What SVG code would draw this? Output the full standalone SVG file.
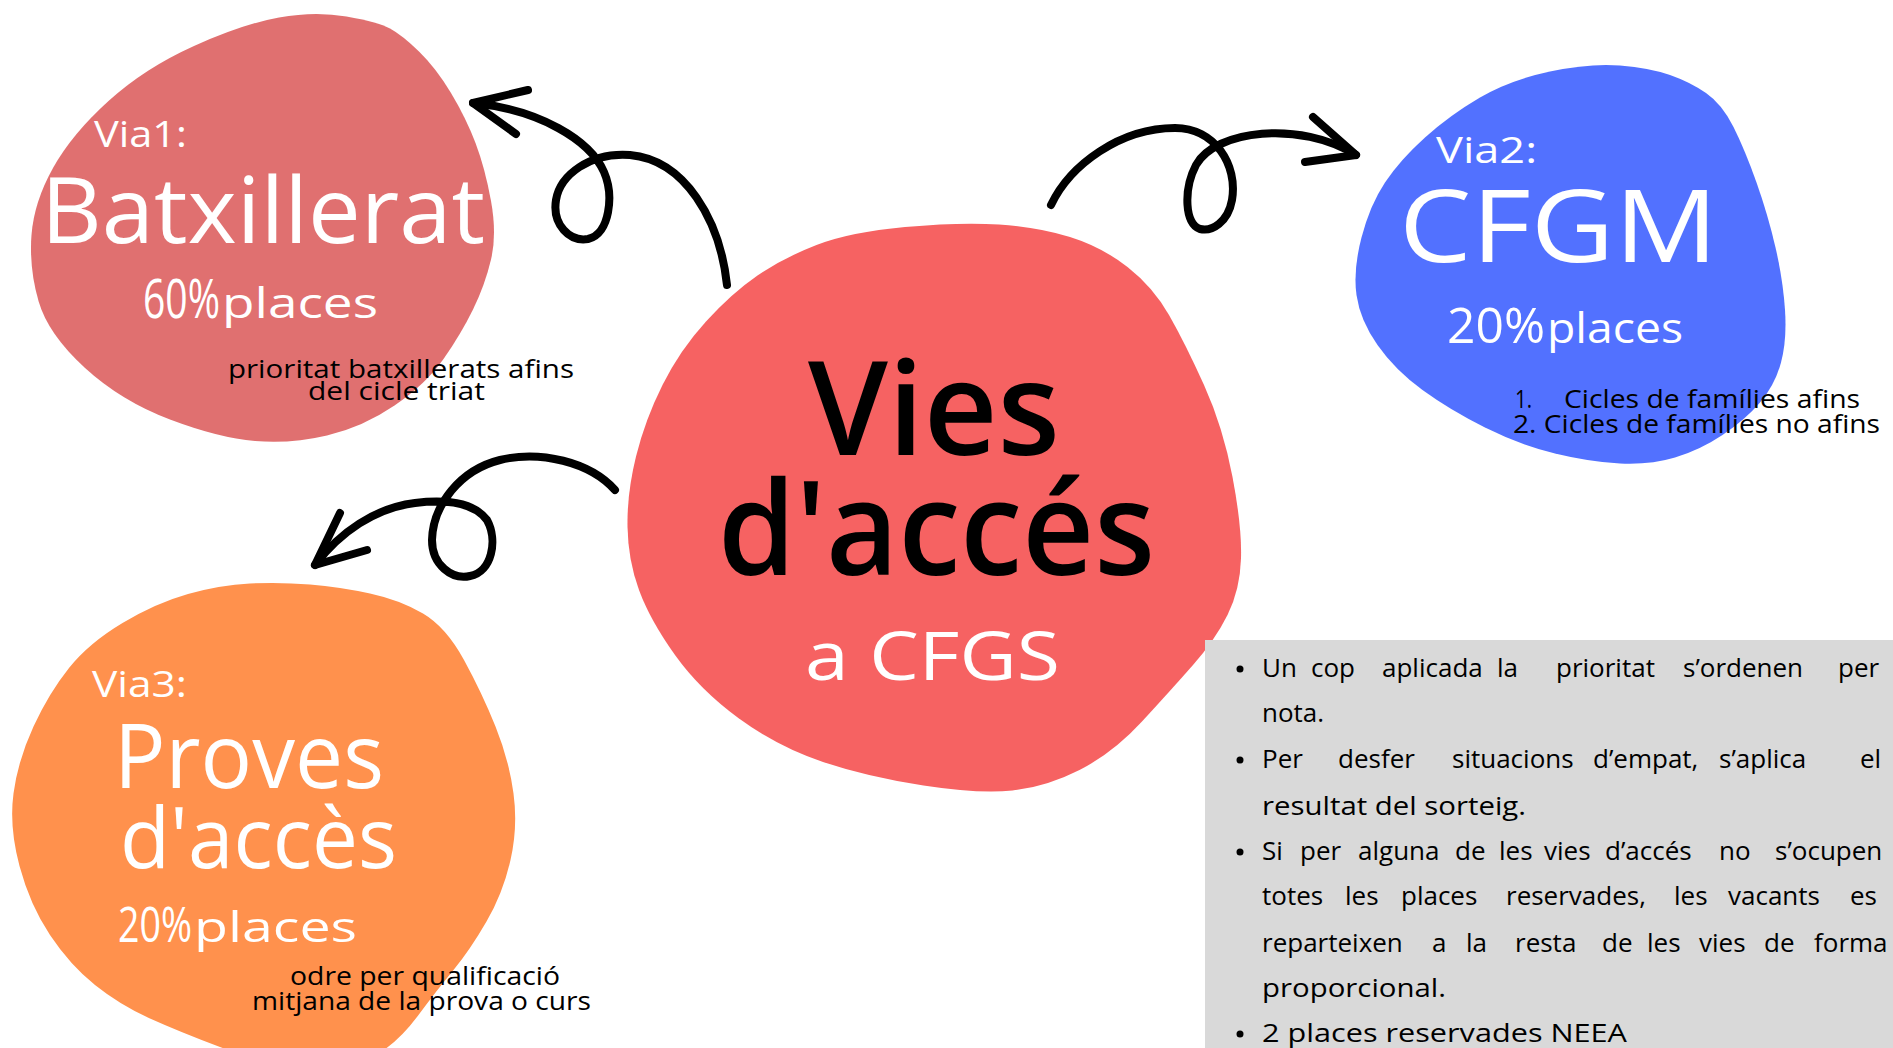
<svg xmlns="http://www.w3.org/2000/svg" width="1893" height="1048" viewBox="0 0 1893 1048">
<style>
  text { font-family: "Open Sans", "Liberation Sans", sans-serif; }
  .w { fill: #ffffff; }
  .k { fill: #000000; }
  .title { font-weight: 600; }
  .note { font-size: 26px; fill: #000000; }
  .arrow { fill: none; stroke: #000000; stroke-width: 8; stroke-linecap: round; stroke-linejoin: round; }
</style>
<rect x="0" y="0" width="1893" height="1048" fill="#ffffff"/>

<g id="node-via1">
  <path fill="#E07070" d="M 390 28.5 Q 402 35 419 51.5 Q 436 68 451 93 Q 466 118 475.5 143 Q 485 168 491 201 Q 497 234 491 259.5 Q 485 285 473 309.5 Q 461 334 443.5 359 Q 426 384 394.5 405.5 Q 363 427 327 435.5 Q 291 444 255 441 Q 219 438 170 419.5 Q 121 401 84.5 367.5 Q 48 334 38.5 301 Q 29 268 31.5 235 Q 34 202 53 168 Q 72 134 108.5 101 Q 145 68 194 46 Q 243 24 279 17.5 Q 315 11 346.5 16.5 Q 378 22 390 28.5 Z"/>
  <text class="w" x="94" y="147" font-size="36" textLength="93" lengthAdjust="spacingAndGlyphs">Via1:</text>
  <text class="w" x="41" y="243" font-size="92" textLength="444" lengthAdjust="spacingAndGlyphs">Batxillerat</text>
  <text class="w" y="318"><tspan x="143" font-size="54" textLength="77" lengthAdjust="spacingAndGlyphs">60%</tspan><tspan x="222" font-size="42" textLength="156" lengthAdjust="spacingAndGlyphs">places</tspan></text>
  <text class="k" x="228" y="378" font-size="25" textLength="346" lengthAdjust="spacingAndGlyphs">prioritat batxillerats afins</text>
  <text class="k" x="308" y="400" font-size="25" textLength="177" lengthAdjust="spacingAndGlyphs">del cicle triat</text>
</g>

<g id="node-via2">
  <path fill="#5271FF" d="M 1550 71.5 Q 1590 63 1620 65.5 Q 1650 68 1670 75 Q 1690 82 1706 93 Q 1722 104 1733.5 127 Q 1745 150 1756.5 182.5 Q 1768 215 1775.5 247.5 Q 1783 280 1785 310 Q 1787 340 1781 362.5 Q 1775 385 1760 402.5 Q 1745 420 1722.5 435 Q 1700 450 1675 457.5 Q 1650 465 1620 463.5 Q 1590 462 1555 453.5 Q 1520 445 1485 427.5 Q 1450 410 1422.5 390 Q 1395 370 1377.5 345 Q 1360 320 1356.5 295 Q 1353 270 1361.5 237.5 Q 1370 205 1385 182.5 Q 1400 160 1425 137.5 Q 1450 115 1480 97.5 Q 1510 80 1550 71.5 Z"/>
  <text class="w" x="1436" y="163" font-size="36" textLength="101" lengthAdjust="spacingAndGlyphs">Via2:</text>
  <text class="w" x="1399" y="262" font-size="100" textLength="319" lengthAdjust="spacingAndGlyphs">CFGM</text>
  <text class="w" y="343"><tspan x="1447" font-size="50" textLength="98" lengthAdjust="spacingAndGlyphs">20%</tspan><tspan x="1547" font-size="42" textLength="136" lengthAdjust="spacingAndGlyphs">places</tspan></text>
  <text class="k" y="408" font-size="25"><tspan x="1515" textLength="17" lengthAdjust="spacingAndGlyphs">1.</tspan><tspan x="1564" textLength="296" lengthAdjust="spacingAndGlyphs">Cicles de famílies afins</tspan></text>
  <text class="k" x="1513" y="433" font-size="25" textLength="367" lengthAdjust="spacingAndGlyphs">2. Cicles de famílies no afins</text>
</g>

<g id="node-via3">
  <path fill="#FF914D" d="M 250 583.5 Q 280 582 310 584.5 Q 340 587 370 593.5 Q 400 600 423 613.5 Q 446 627 464 660 Q 482 693 495.5 726.5 Q 509 760 513.5 793.5 Q 518 827 510.5 860 Q 503 893 486.5 921.5 Q 470 950 453.5 970 Q 437 990 418.5 1015 Q 400 1040 380 1052.5 Q 360 1065 310 1063.5 Q 260 1062 220 1047 Q 180 1032 150 1018.5 Q 120 1005 95 985 Q 70 965 50 935 Q 30 905 19.5 866 Q 9 827 13.5 793.5 Q 18 760 33.5 726.5 Q 49 693 69 668 Q 89 643 122.5 623 Q 156 603 188 594 Q 220 585 250 583.5 Z"/>
  <text class="w" x="92" y="697" font-size="36" textLength="95" lengthAdjust="spacingAndGlyphs">Via3:</text>
  <text class="w" x="114" y="788" font-size="90" textLength="270" lengthAdjust="spacingAndGlyphs">Proves</text>
  <text class="w" x="120" y="868" font-size="85" textLength="277" lengthAdjust="spacingAndGlyphs">d'accès</text>
  <text class="w" y="942"><tspan x="118" font-size="50" textLength="74" lengthAdjust="spacingAndGlyphs">20%</tspan><tspan x="194" font-size="42" textLength="163" lengthAdjust="spacingAndGlyphs">places</tspan></text>
  <text class="k" x="290" y="985" font-size="25" textLength="270" lengthAdjust="spacingAndGlyphs">odre per qualificació</text>
  <text class="k" x="252" y="1010" font-size="25" textLength="339" lengthAdjust="spacingAndGlyphs">mitjana de la prova o curs</text>
</g>

<g id="node-center">
  <path fill="#F66262" d="M 905 227 Q 960 222 999 224.5 Q 1038 227 1070 237 Q 1102 247 1127.5 267 Q 1153 287 1169 315 Q 1185 343 1204 385 Q 1223 427 1232.5 477 Q 1242 527 1241 558.5 Q 1240 590 1227.5 615 Q 1215 640 1193 665 Q 1171 690 1142 721.5 Q 1113 753 1079.5 770 Q 1046 787 1012.5 790.5 Q 979 794 923.5 785.5 Q 868 777 823 762 Q 778 747 739 718.5 Q 700 690 675 655 Q 650 620 639 590 Q 628 560 627.5 526.5 Q 627 493 636 456.5 Q 645 420 662.5 385 Q 680 350 706 321.5 Q 732 293 757.5 275.5 Q 783 258 816.5 245 Q 850 232 905 227 Z"/>
  <text class="k title" x="808" y="455" font-size="130" textLength="252" lengthAdjust="spacingAndGlyphs">Vies</text>
  <text class="k title" x="718" y="575" font-size="130" textLength="437" lengthAdjust="spacingAndGlyphs">d'accés</text>
  <text class="w" x="805" y="680" font-size="68" textLength="255" lengthAdjust="spacingAndGlyphs">a CFGS</text>
</g>

<g id="connectors">
  <path class="arrow" d="M 727 285 C 720 220, 685 160, 630 155 C 590 152, 560 175, 556 200 C 552 225, 570 242, 588 239 C 610 234, 614 195, 604 172 C 590 140, 540 110, 473 103"/>
  <path class="arrow" d="M 528 90 L 473 103 L 516 134"/>
  <path class="arrow" d="M 1051 205 C 1070 165, 1120 128, 1175 128 C 1215 128, 1238 165, 1232 200 C 1228 222, 1212 232, 1200 229 C 1185 225, 1183 190, 1196 165 C 1215 130, 1300 120, 1356 155"/>
  <path class="arrow" d="M 1313 117 L 1356 155 L 1305 162"/>
  <path class="arrow" d="M 615 490 C 590 462, 540 450, 500 460 C 460 470, 433 505, 432 540 C 432 565, 452 580, 470 576 C 492 572, 498 540, 487 520 C 472 500, 440 500, 415 503 C 375 508, 340 532, 315 565"/>
  <path class="arrow" d="M 340 513 L 315 565 L 367 550"/>
</g>

<g id="note-box">
  <rect x="1205" y="640" width="688" height="408" fill="#D9D9D9"/>
  <g fill="#000000">
    <circle cx="1240" cy="669" r="3.5"/>
    <circle cx="1240" cy="760" r="3.5"/>
    <circle cx="1240" cy="852" r="3.5"/>
    <circle cx="1240" cy="1034" r="3.5"/>
  </g>
  <text class="note" y="677"><tspan x="1262">Un</tspan><tspan x="1311">cop</tspan><tspan x="1382">aplicada</tspan><tspan x="1497">la</tspan><tspan x="1556">prioritat</tspan><tspan x="1683">s’ordenen</tspan><tspan x="1838">per</tspan></text>
  <text class="note" x="1262" y="722" textLength="62" lengthAdjust="spacingAndGlyphs">nota.</text>
  <text class="note" y="768"><tspan x="1262">Per</tspan><tspan x="1338">desfer</tspan><tspan x="1452">situacions</tspan><tspan x="1593">d’empat,</tspan><tspan x="1719">s’aplica</tspan><tspan x="1860">el</tspan></text>
  <text class="note" x="1262" y="815" textLength="264" lengthAdjust="spacingAndGlyphs">resultat del sorteig.</text>
  <text class="note" y="860"><tspan x="1262">Si</tspan><tspan x="1300">per</tspan><tspan x="1358">alguna</tspan><tspan x="1455">de</tspan><tspan x="1499">les</tspan><tspan x="1544">vies</tspan><tspan x="1605">d’accés</tspan><tspan x="1719">no</tspan><tspan x="1775">s’ocupen</tspan></text>
  <text class="note" y="905"><tspan x="1262">totes</tspan><tspan x="1345">les</tspan><tspan x="1401">places</tspan><tspan x="1506">reservades,</tspan><tspan x="1674">les</tspan><tspan x="1728">vacants</tspan><tspan x="1850">es</tspan></text>
  <text class="note" y="952"><tspan x="1262">reparteixen</tspan><tspan x="1432">a</tspan><tspan x="1466">la</tspan><tspan x="1515">resta</tspan><tspan x="1602">de</tspan><tspan x="1647">les</tspan><tspan x="1699">vies</tspan><tspan x="1764">de</tspan><tspan x="1814">forma</tspan></text>
  <text class="note" x="1262" y="997" textLength="184" lengthAdjust="spacingAndGlyphs">proporcional.</text>
  <text class="note" x="1262" y="1042" textLength="365" lengthAdjust="spacingAndGlyphs">2 places reservades NEEA</text>
</g>
</svg>
